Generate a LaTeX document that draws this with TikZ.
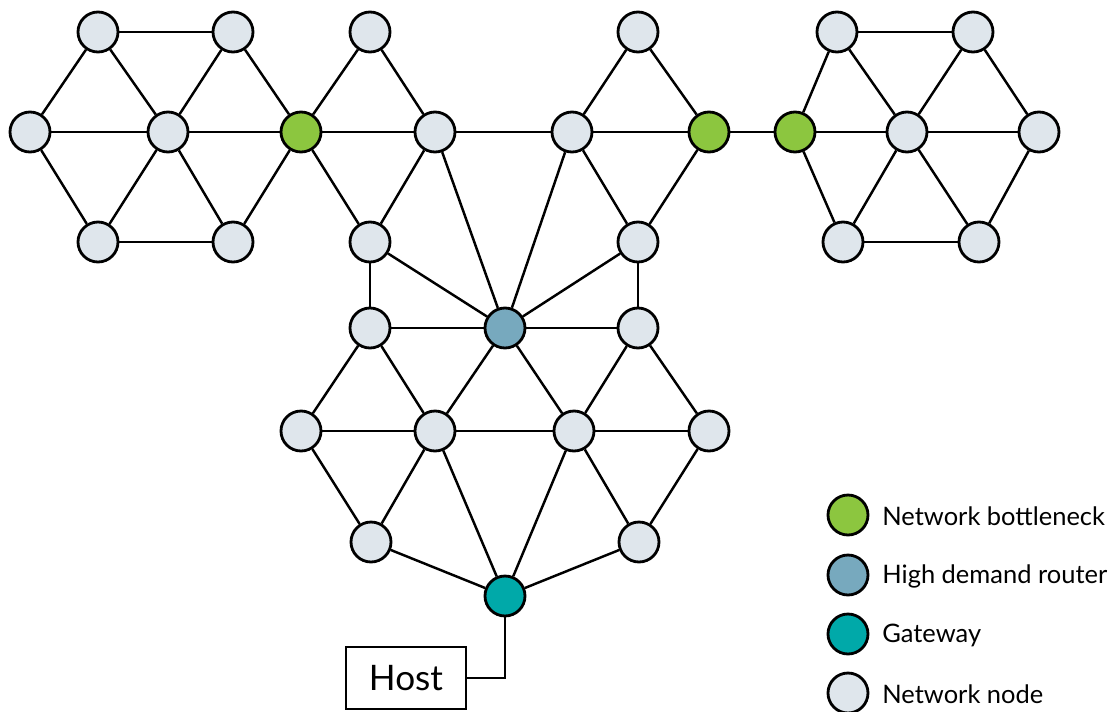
\documentclass[tikz,border=0pt]{standalone}
\usepackage{fontspec}
\setmainfont{Lato}
\definecolor{bottle}{HTML}{8CC63F}
\definecolor{router}{HTML}{77A9BE}
\definecolor{gate}{HTML}{00A9A9}
\definecolor{plain}{HTML}{DFE6EC}
\begin{document}
\begin{tikzpicture}[x=0.02cm,y=-0.02cm,
  nd/.style={circle,draw=black,line width=1.6pt,minimum size=0.8cm,inner sep=0pt,fill=plain},
  bn/.style={nd,fill=bottle},
  rt/.style={nd,fill=router},
  gw/.style={nd,fill=gate},
  edge/.style={line width=1.4pt,draw=black},
  lbl/.style={anchor=west,font=\fontsize{14.5pt}{16pt}\selectfont,inner sep=0pt},
  hostbox/.style={draw=black,line width=1.4pt,fill=white,minimum width=2.4cm,minimum height=1.24cm,inner sep=0pt,font=\fontsize{20pt}{22pt}\selectfont}]
\useasboundingbox (0,0) rectangle (1117,711);
% nodes
\node[nd] (L1) at (98,32) {};
\node[nd] (L2) at (233,32) {};
\node[nd] (L3) at (30,132) {};
\node[nd] (L4) at (168,132) {};
\node[bn] (G1) at (301,132) {};
\node[nd] (L6) at (98,242) {};
\node[nd] (L7) at (233,242) {};
\node[nd] (M1) at (370,32) {};
\node[nd] (M2) at (435,132) {};
\node[nd] (M3) at (370,242) {};
\node[nd] (R1) at (638,32) {};
\node[nd] (R2) at (572,132) {};
\node[bn] (G2) at (709,132) {};
\node[nd] (R3) at (638,242) {};
\node[bn] (G3) at (795,132) {};
\node[nd] (H1) at (837,32) {};
\node[nd] (H2) at (973,32) {};
\node[nd] (H3) at (907,132) {};
\node[nd] (H4) at (1039,132) {};
\node[nd] (H5) at (843,242) {};
\node[nd] (H6) at (979,242) {};
\node[nd] (B1) at (370,328) {};
\node[rt] (BR) at (505,328) {};
\node[nd] (B2) at (638,328) {};
\node[nd] (C1) at (301,431) {};
\node[nd] (C2) at (435,431) {};
\node[nd] (C3) at (574,431) {};
\node[nd] (C4) at (709,431) {};
\node[nd] (D1) at (371,542) {};
\node[nd] (D2) at (639,542) {};
\node[gw] (GW) at (505,596) {};
\node[hostbox] (host) at (406,678) {Host};
\coordinate (bend) at (505,678);
% edges
\foreach \a/\b in {L1/L2,L1/L3,L1/L4,L2/L4,L2/G1,L3/L4,L4/G1,L3/L6,L4/L6,L4/L7,G1/L7,L6/L7,
  M1/G1,M1/M2,G1/M2,G1/M3,M2/M3,M2/R2,
  R1/R2,R1/G2,R2/G2,R2/R3,G2/R3,G2/G3,
  H1/H2,H1/G3,H1/H3,H2/H3,H2/H4,G3/H3,H3/H4,G3/H5,H3/H5,H3/H6,H4/H6,H5/H6,
  M3/B1,R3/B2,M3/BR,R3/BR,M2/BR,R2/BR,B1/BR,BR/B2,
  B1/C1,B1/C2,BR/C2,BR/C3,B2/C3,B2/C4,C1/C2,C2/C3,C3/C4,
  C1/D1,C2/D1,C3/D2,C4/D2,C2/GW,C3/GW,D1/GW,D2/GW}
  \draw[edge] (\a) -- (\b);
\draw[edge] (GW) -- (bend) -- (host.east);
% legend
\node[bn] (k1) at (848,515) {};
\node[rt] (k2) at (848,575) {};
\node[gw] (k3) at (848,634) {};
\node[nd] (k4) at (848,693) {};
\node[lbl] (t1) at (882,516) {Network bottleneck};
\node[lbl] (t2) at (882,576) {High demand router};
\node[lbl] (t3) at (882,635) {Gateway};
\node[lbl] (t4) at (882,694) {Network node};
\end{tikzpicture}
\end{document}
